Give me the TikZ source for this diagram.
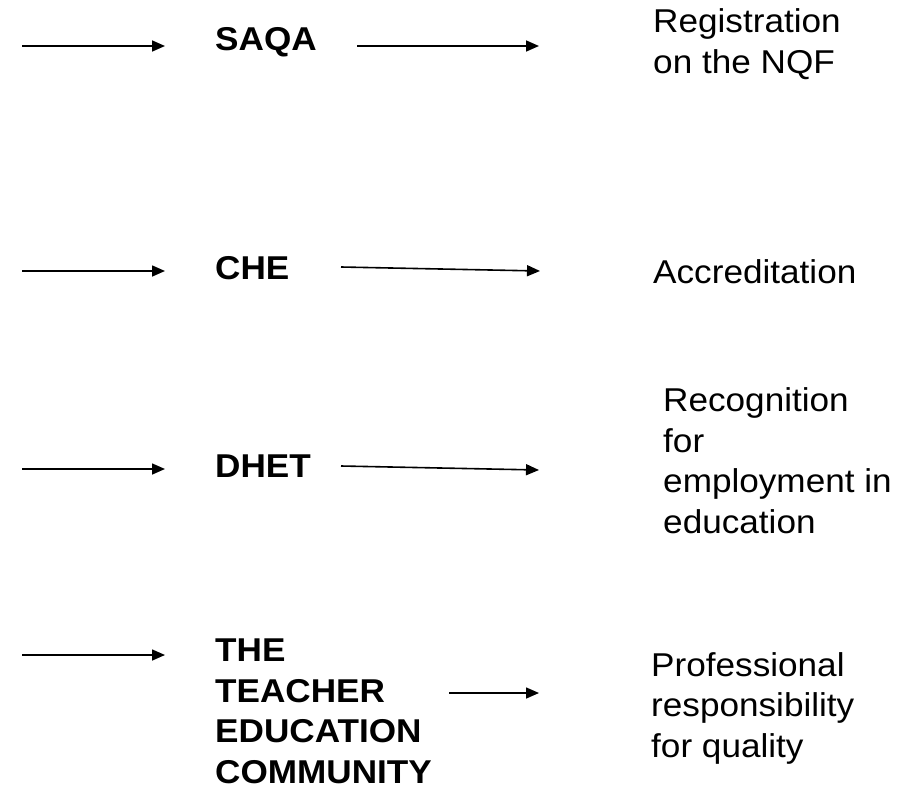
\documentclass[tikz,border=0pt]{standalone}
\usepackage{fontspec}
\setmainfont{Liberation Sans}[FakeStretch=1.065]
\usetikzlibrary{arrows.meta}

\tikzset{
    body/.style = {inner sep=0pt, anchor=base west, align=left, font=\fontsize{33}{40.5}\selectfont},
    actor/.style = {body, font=\fontsize{33}{40.5}\selectfont\bfseries},
    flow/.style = {line width=1.6pt, -{Triangle[length=13pt,width=11pt]}}
}

\begin{document}
\begin{tikzpicture}[x=1pt, y=-1pt]

\useasboundingbox (0,0) rectangle (917,792);

% bodies in the middle column (base = last line)
\node [actor] (saqa) at (215,50) {SAQA};
\node [actor] (che)  at (215,279) {CHE};
\node [actor] (dhet) at (215,477) {DHET};
\node [actor] (tec)  at (215,783) {THE\\TEACHER\\EDUCATION\\COMMUNITY};

% what each of them gives
\node [body] (reg)   at (653,73)  {Registration\\on the NQF};
\node [body] (accr)  at (653,283) {Accreditation};
\node [body] (recog) at (663,533) {Recognition\\for\\employment in\\education};
\node [body] (prof)  at (651,757) {Professional\\responsibility\\for quality};

% arrow ends
\coordinate (in1) at (22,46);  \coordinate (to1) at (165,46);
\coordinate (in2) at (22,271); \coordinate (to2) at (165,271);
\coordinate (in3) at (22,469); \coordinate (to3) at (165,469);
\coordinate (in4) at (22,655); \coordinate (to4) at (165,655);

\coordinate (out1) at (357,46);  \coordinate (at1) at (539,46);
\coordinate (out2) at (341,267); \coordinate (at2) at (540,271);
\coordinate (out3) at (341,466); \coordinate (at3) at (539,470);
\coordinate (out4) at (449,693); \coordinate (at4) at (539,693);

\foreach \i in {1,...,4} {
    \draw [flow] (in\i) -- (to\i);
    \draw [flow] (out\i) -- (at\i);
}

\end{tikzpicture}
\end{document}
